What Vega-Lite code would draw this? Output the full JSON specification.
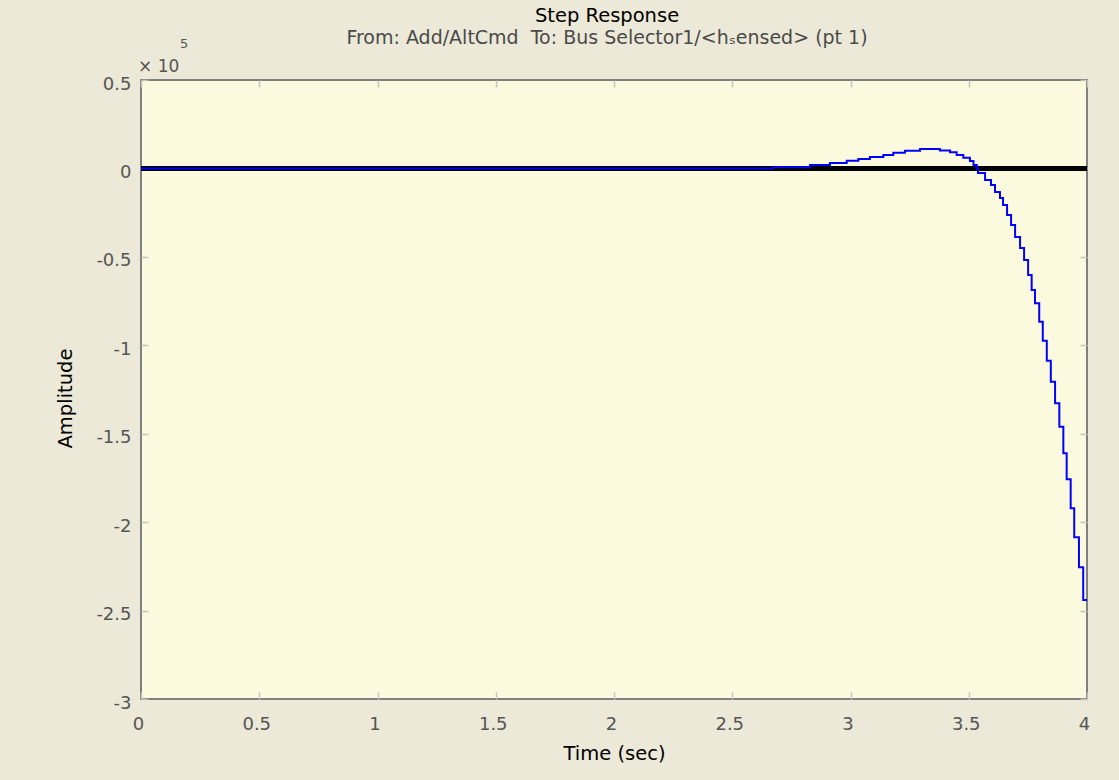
{
  "$schema": "https://vega.github.io/schema/vega-lite/v6.json",
  "autosize": {"type": "none"},
  "padding": {"left": 141, "top": 80, "right": 32, "bottom": 81},
  "width": 946,
  "height": 619,
  "background": "#ECE9D8",
  "config": {
    "view": {"fill": "#FCFADE", "stroke": "#7f7f7f", "strokeWidth": 2},
    "font": "DejaVu Sans",
    "axis": {
      "labelFont": "DejaVu Sans",
      "labelFontSize": 18,
      "labelColor": "#555555",
      "labelFlush": false,
      "titleFont": "DejaVu Sans",
      "titleFontSize": 19.5,
      "titleFontWeight": "normal",
      "titleColor": "#000000",
      "domain": false,
      "grid": false,
      "tickColor": "#c4c4bc",
      "tickWidth": 1.5,
      "tickSize": -7
    }
  },
  "title": {
    "text": "Step Response",
    "subtitle": "From: Add/AltCmd\u00a0 To: Bus Selector1/<hₛensed> (pt 1)",
    "anchor": "middle",
    "frame": "group",
    "font": "DejaVu Sans",
    "fontSize": 19.5,
    "fontWeight": "normal",
    "color": "#000000",
    "subtitleFont": "DejaVu Sans",
    "subtitleFontSize": 19,
    "subtitleColor": "#4a4a4a",
    "subtitlePadding": 3,
    "offset": -11,
    "dx": -7
  },
  "datasets": {
    "resp": [
      {"t": 0, "v": 0},
      {"t": 2.672, "v": 0.006},
      {"t": 2.829, "v": 0.019},
      {"t": 2.913, "v": 0.031},
      {"t": 2.984, "v": 0.044},
      {"t": 3.033, "v": 0.053},
      {"t": 3.082, "v": 0.064},
      {"t": 3.139, "v": 0.076},
      {"t": 3.181, "v": 0.089},
      {"t": 3.230, "v": 0.100},
      {"t": 3.294, "v": 0.110},
      {"t": 3.378, "v": 0.102},
      {"t": 3.421, "v": 0.091},
      {"t": 3.449, "v": 0.076},
      {"t": 3.477, "v": 0.060},
      {"t": 3.505, "v": 0.042},
      {"t": 3.520, "v": 0.020},
      {"t": 3.534, "v": 0.0},
      {"t": 3.539, "v": -0.026},
      {"t": 3.569, "v": -0.066},
      {"t": 3.594, "v": -0.094},
      {"t": 3.611, "v": -0.133},
      {"t": 3.632, "v": -0.167},
      {"t": 3.645, "v": -0.207},
      {"t": 3.662, "v": -0.263},
      {"t": 3.679, "v": -0.320},
      {"t": 3.696, "v": -0.388},
      {"t": 3.717, "v": -0.450},
      {"t": 3.734, "v": -0.518},
      {"t": 3.751, "v": -0.603},
      {"t": 3.766, "v": -0.687},
      {"t": 3.780, "v": -0.763},
      {"t": 3.798, "v": -0.867},
      {"t": 3.813, "v": -0.974},
      {"t": 3.830, "v": -1.087},
      {"t": 3.847, "v": -1.206},
      {"t": 3.865, "v": -1.328},
      {"t": 3.883, "v": -1.460},
      {"t": 3.900, "v": -1.611},
      {"t": 3.914, "v": -1.757},
      {"t": 3.931, "v": -1.921},
      {"t": 3.946, "v": -2.085},
      {"t": 3.966, "v": -2.255},
      {"t": 3.984, "v": -2.440},
      {"t": 4.0, "v": -2.440}
    ],
    "final": [
      {"t": 0, "v": 0},
      {"t": 4, "v": 0}
    ],
    "mult": [
      {"t": 0, "v": 0.5, "s": "× 10", "p": "5"}
    ]
  },
  "layer": [
    {
      "data": {"name": "final"},
      "mark": {"type": "line", "color": "#000000", "strokeWidth": 5, "clip": true},
      "encoding": {
        "x": {"field": "t", "type": "quantitative", "scale": {"domain": [0, 4], "nice": false, "zero": false},
              "axis": {"orient": "top", "labels": false, "title": null, "values": [0, 0.5, 1, 1.5, 2, 2.5, 3, 3.5, 4]}},
        "y": {"field": "v", "type": "quantitative", "scale": {"domain": [-3, 0.5], "nice": false, "zero": false},
              "axis": {"orient": "right", "labels": false, "title": null, "values": [-3, -2.5, -2, -1.5, -1, -0.5, 0, 0.5]}}
      }
    },
    {
      "data": {"name": "resp"},
      "mark": {"type": "line", "color": "#0000FF", "strokeWidth": 2, "interpolate": "step-after", "clip": true},
      "encoding": {
        "x": {"field": "t", "type": "quantitative",
              "axis": {"orient": "bottom", "title": "Time (sec)", "values": [0, 0.5, 1, 1.5, 2, 2.5, 3, 3.5, 4],
                       "labelExpr": "format(datum.value, '~g')", "labelPadding": 23, "labelOffset": -3, "titlePadding": 11}},
        "y": {"field": "v", "type": "quantitative",
              "axis": {"orient": "left", "title": "Amplitude", "values": [-3, -2.5, -2, -1.5, -1, -0.5, 0, 0.5],
                       "labelExpr": "datum.value < 0 ? '-' + format(-datum.value, '~g') : format(datum.value, '~g')",
                       "labelPadding": 17, "labelOffset": 4, "titlePadding": 20, "titleY": 318}}
      }
    },
    {
      "data": {"name": "mult"},
      "mark": {"type": "text", "align": "left", "baseline": "alphabetic", "dx": -3, "dy": -8, "fontSize": 17, "color": "#555555", "font": "DejaVu Sans"},
      "encoding": {
        "x": {"field": "t", "type": "quantitative", "axis": null},
        "y": {"field": "v", "type": "quantitative", "axis": null},
        "text": {"field": "s"}
      }
    },
    {
      "data": {"name": "mult"},
      "mark": {"type": "text", "align": "left", "baseline": "alphabetic", "dx": 39, "dy": -32, "fontSize": 13, "color": "#555555", "font": "DejaVu Sans"},
      "encoding": {
        "x": {"field": "t", "type": "quantitative", "axis": null},
        "y": {"field": "v", "type": "quantitative", "axis": null},
        "text": {"field": "p"}
      }
    }
  ]
}
